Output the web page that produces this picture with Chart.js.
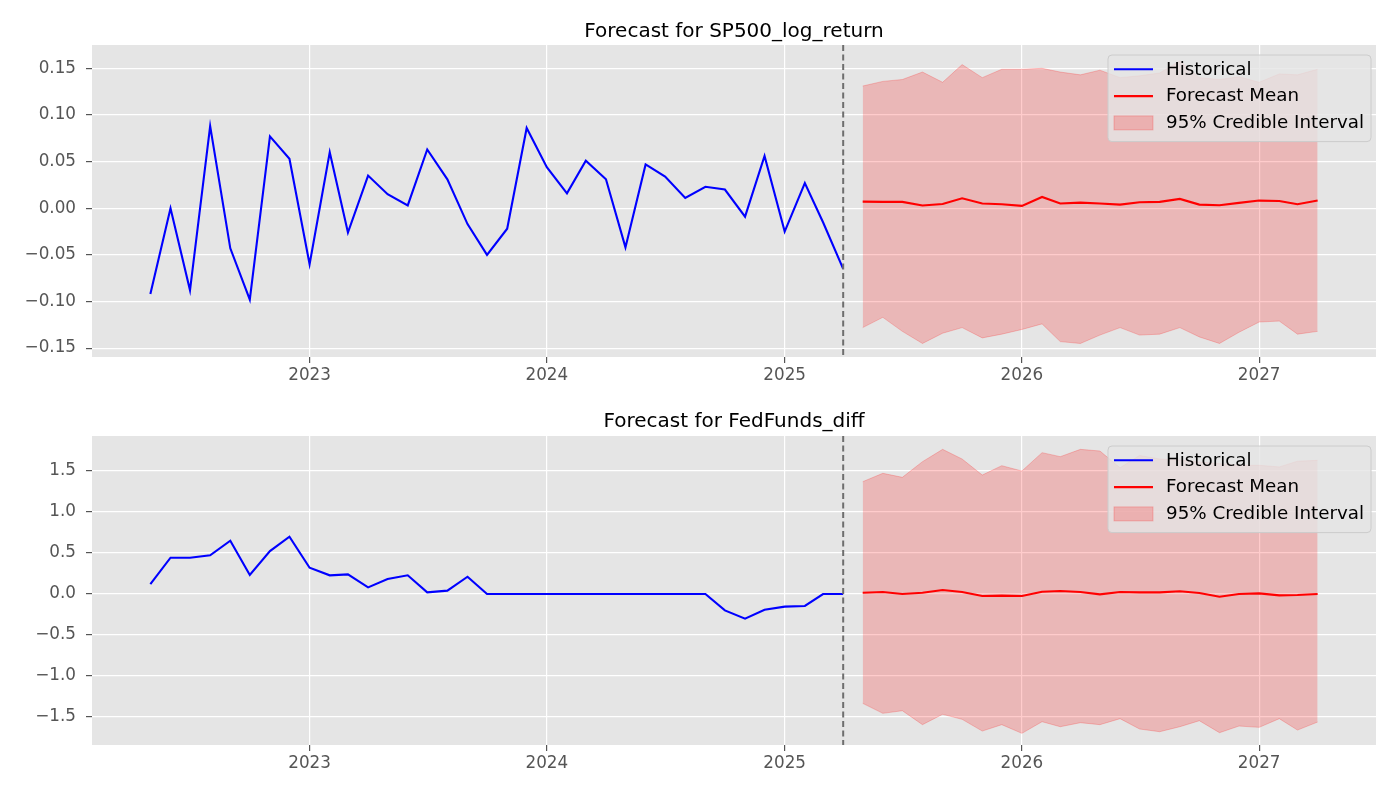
<!DOCTYPE html>
<html>
<head>
<meta charset="utf-8">
<title>Forecast</title>
<script src="https://cdn.jsdelivr.net/npm/chart.js@4.4.1/dist/chart.umd.min.js"></script>
<style>
  html, body { margin: 0; padding: 0; background: #fff; }
  #wrap { width: 1400px; height: 800px; }
  canvas { display: block; }
</style>
</head>
<body>
<div id="wrap">
  <canvas id="spChart" width="1400" height="400"></canvas>
  <canvas id="fedChart" width="1400" height="400"></canvas>
</div>
<script>
// months
const histMonths = [
  '2022-05', '2022-06', '2022-07', '2022-08', '2022-09', '2022-10', '2022-11', '2022-12',
  '2023-01', '2023-02', '2023-03', '2023-04', '2023-05', '2023-06', '2023-07', '2023-08',
  '2023-09', '2023-10', '2023-11', '2023-12', '2024-01', '2024-02', '2024-03', '2024-04',
  '2024-05', '2024-06', '2024-07', '2024-08', '2024-09', '2024-10', '2024-11', '2024-12',
  '2025-01', '2025-02', '2025-03', '2025-04'
];
const fcMonths = [
  '2025-05', '2025-06', '2025-07', '2025-08', '2025-09', '2025-10', '2025-11', '2025-12',
  '2026-01', '2026-02', '2026-03', '2026-04', '2026-05', '2026-06', '2026-07', '2026-08',
  '2026-09', '2026-10', '2026-11', '2026-12', '2027-01', '2027-02', '2027-03', '2027-04'
];
const yearTicks = [2023, 2024, 2025, 2026, 2027];

// SP500_log_return
const spHist = [
  -0.092, 0.000, -0.088, 0.088, -0.043, -0.098, 0.077, 0.053,
  -0.060, 0.060, -0.026, 0.035, 0.015, 0.003, 0.063, 0.031,
  -0.017, -0.050, -0.022, 0.086, 0.044, 0.016, 0.051, 0.031,
  -0.042, 0.047, 0.034, 0.011, 0.023, 0.020, -0.009, 0.056,
  -0.025, 0.027, -0.015, -0.065
];
const spMean = [
  0.0071, 0.0068, 0.0068, 0.0029, 0.0046, 0.0107, 0.0050, 0.0043,
  0.0025, 0.0121, 0.0050, 0.0060, 0.0050, 0.0039, 0.0064, 0.0068,
  0.0100, 0.0039, 0.0032, 0.0057, 0.0082, 0.0078, 0.0043, 0.0082
];
const spUpper = [
  0.131, 0.136, 0.138, 0.146, 0.135, 0.154, 0.140, 0.149,
  0.149, 0.150, 0.146, 0.143, 0.148, 0.140, 0.142, 0.145,
  0.158, 0.140, 0.138, 0.141, 0.135, 0.144, 0.143, 0.149
];
const spLower = [
  -0.128, -0.117, -0.132, -0.145, -0.134, -0.128, -0.139, -0.135,
  -0.130, -0.124, -0.143, -0.145, -0.136, -0.128, -0.136, -0.135,
  -0.128, -0.138, -0.145, -0.133, -0.122, -0.121, -0.135, -0.132
];
const spTicks = [-0.15, -0.10, -0.05, 0.00, 0.05, 0.10, 0.15];

// FedFunds_diff
const fedHist = [
  0.122, 0.443, 0.443, 0.472, 0.650, 0.232, 0.524, 0.699,
  0.321, 0.228, 0.240, 0.081, 0.183, 0.228, 0.020, 0.041,
  0.211, 0.000, 0.000, 0.000, 0.000, 0.000, 0.000, 0.000,
  0.000, 0.000, 0.000, 0.000, 0.000, -0.199, -0.301, -0.191,
  -0.154, -0.146, 0.000, 0.000
];
const fedMean = [
  0.016, 0.024, 0.000, 0.016, 0.049, 0.024, -0.024, -0.020,
  -0.024, 0.028, 0.037, 0.024, -0.004, 0.024, 0.020, 0.020,
  0.033, 0.012, -0.033, 0.000, 0.008, -0.016, -0.012, 0.000
];
const fedUpper = [
  1.370, 1.472, 1.423, 1.614, 1.764, 1.646, 1.451, 1.565,
  1.500, 1.724, 1.675, 1.764, 1.744, 1.540, 1.690, 1.646,
  1.634, 1.610, 1.590, 1.570, 1.570, 1.550, 1.620, 1.630
];
const fedLower = [
  -1.333, -1.455, -1.423, -1.593, -1.467, -1.528, -1.671, -1.593,
  -1.699, -1.557, -1.618, -1.569, -1.593, -1.520, -1.646, -1.679,
  -1.618, -1.545, -1.691, -1.610, -1.626, -1.520, -1.659, -1.561
];
const fedTicks = [-1.5, -1.0, -0.5, 0.0, 0.5, 1.0, 1.5];

const legendLabels = ['Historical', 'Forecast Mean', '95% Credible Interval'];

const FONT = "'DejaVu Sans', 'Liberation Sans', sans-serif";
const TICK_SIZE = 16.8;
const LEGEND_SIZE = 18.3;
const BAND = 'rgba(255, 0, 0, 0.2)';
Chart.defaults.font.family = FONT;

function toTime(m) {
  const [y, mo] = m.split('-').map(Number);
  return Date.UTC(y, mo - 1, 1);
}

const tFirst = toTime(histMonths[0]);
const tLast = toTime(fcMonths[fcMonths.length - 1]);
const xMin = tFirst - 0.05 * (tLast - tFirst);
const xMax = tLast + 0.05 * (tLast - tFirst);
const forecastStart = toTime(histMonths[histMonths.length - 1]);

function pts(months, vals) {
  return months.map((m, i) => ({ x: toTime(m), y: vals[i] }));
}

// grey panel behind the plot
const areaBg = {
  id: 'areaBg',
  beforeDraw(chart) {
    const { ctx, chartArea: a } = chart;
    ctx.save();
    ctx.fillStyle = '#e5e5e5';
    ctx.fillRect(a.left, a.top, a.right - a.left, a.bottom - a.top);
    ctx.restore();
  }
};

// title centred over the plot area
const axTitle = {
  id: 'axTitle',
  afterDraw(chart, args, o) {
    const { ctx, chartArea: a } = chart;
    ctx.save();
    ctx.font = '20px ' + FONT;
    ctx.fillStyle = '#000';
    ctx.textAlign = 'center';
    ctx.textBaseline = 'alphabetic';
    ctx.fillText(o.text, (a.left + a.right) / 2, o.baseline);
    ctx.restore();
  }
};

// dashed line where the forecast begins
const startLine = {
  id: 'startLine',
  afterDatasetsDraw(chart) {
    const { ctx, chartArea: a, scales } = chart;
    const x = scales.x.getPixelForValue(forecastStart);
    ctx.save();
    ctx.strokeStyle = '#6e6e6e';
    ctx.lineWidth = 2;
    ctx.setLineDash([6, 3.5]);
    ctx.beginPath();
    ctx.moveTo(x, a.top);
    ctx.lineTo(x, a.bottom);
    ctx.stroke();
    ctx.restore();
  }
};

// matplotlib-like legend box in the upper right
const boxLegend = {
  id: 'boxLegend',
  afterDraw(chart) {
    const { ctx, chartArea: a } = chart;
    ctx.save();
    ctx.font = LEGEND_SIZE + 'px ' + FONT;
    const textW = Math.max(...legendLabels.map(t => ctx.measureText(t).width));
    const handleX = 6, handleLen = 39, textX = 58, rowH = 26.8;
    const w = textX + textW + 7;
    const h = 86.6;
    const x = a.right - 5 - w;
    const y = a.top + 10;

    ctx.beginPath();
    ctx.roundRect(x, y, w, h, 4);
    ctx.fillStyle = 'rgba(229, 229, 229, 0.8)';
    ctx.fill();
    ctx.strokeStyle = '#cccccc';
    ctx.lineWidth = 1;
    ctx.stroke();

    const hx = x + handleX;
    const colors = ['#0000ff', '#ff0000'];
    legendLabels.forEach((label, i) => {
      const ry = y + 14.3 + i * rowH;
      if (i < 2) {
        ctx.strokeStyle = colors[i];
        ctx.lineWidth = 2.1;
        ctx.beginPath();
        ctx.moveTo(hx, ry);
        ctx.lineTo(hx + handleLen, ry);
        ctx.stroke();
      } else {
        ctx.fillStyle = BAND;
        ctx.fillRect(hx, ry - 7, handleLen, 14);
        ctx.strokeStyle = BAND;
        ctx.lineWidth = 1;
        ctx.strokeRect(hx, ry - 7, handleLen, 14);
      }
      ctx.fillStyle = '#000';
      ctx.textBaseline = 'middle';
      ctx.textAlign = 'left';
      ctx.fillText(label, x + textX, ry + 0.5);
    });
    ctx.restore();
  }
};

function makeChart(id, opts) {
  const ctx = document.getElementById(id).getContext('2d');
  return new Chart(ctx, {
    type: 'line',
    data: {
      datasets: [
        {
          label: 'Historical',
          data: pts(histMonths, opts.hist),
          borderColor: '#0000ff',
          borderWidth: 2.1,
          pointRadius: 0,
          tension: 0,
          fill: false,
          order: 0
        },
        {
          label: 'Forecast Mean',
          data: pts(fcMonths, opts.mean),
          borderColor: '#ff0000',
          borderWidth: 2.1,
          pointRadius: 0,
          tension: 0,
          fill: false,
          order: 1
        },
        {
          label: '95% Credible Interval',
          data: pts(fcMonths, opts.upper),
          borderColor: BAND,
          backgroundColor: BAND,
          borderWidth: 1,
          pointRadius: 0,
          tension: 0,
          fill: '+1',
          order: 2
        },
        {
          label: 'lower',
          data: pts(fcMonths, opts.lower),
          borderColor: BAND,
          borderWidth: 1,
          pointRadius: 0,
          tension: 0,
          fill: false,
          order: 3
        }
      ]
    },
    options: {
      responsive: false,
      animation: false,
      events: [],
      layout: { padding: { left: 0, right: 24, top: opts.topPad, bottom: 0 } },
      scales: {
        x: {
          type: 'linear',
          min: xMin,
          max: xMax,
          afterBuildTicks: s => { s.ticks = yearTicks.map(y => ({ value: Date.UTC(y, 0, 1) })); },
          afterFit: s => { s.height = opts.xAxisH; },
          ticks: {
            callback: v => String(new Date(v).getUTCFullYear()),
            color: '#555555',
            font: { size: TICK_SIZE },
            padding: 3,
            autoSkip: false,
            maxRotation: 0
          },
          grid: { color: '#ffffff', lineWidth: 1.2, tickColor: '#555555', tickLength: 6, tickWidth: 1.2 },
          border: { display: false }
        },
        y: {
          type: 'linear',
          min: opts.yMin,
          max: opts.yMax,
          afterBuildTicks: s => { s.ticks = opts.ticks.map(v => ({ value: v })); },
          afterFit: s => { s.width = 92; },
          ticks: {
            callback: v => v.toFixed(opts.dec).replace('-', '\u2212'),
            color: '#555555',
            font: { size: TICK_SIZE },
            padding: 10
          },
          grid: { color: '#ffffff', lineWidth: 1.2, tickColor: '#555555', tickLength: 6, tickWidth: 1.2 },
          border: { display: false }
        }
      },
      plugins: {
        legend: { display: false },
        tooltip: { enabled: false },
        title: { display: false },
        axTitle: { text: opts.title, baseline: opts.titleBase }
      }
    },
    plugins: [areaBg, startLine, boxLegend, axTitle]
  });
}

makeChart('spChart', {
  title: 'Forecast for SP500_log_return',
  hist: spHist, mean: spMean, upper: spUpper, lower: spLower,
  ticks: spTicks, dec: 2,
  yMin: -0.1595, yMax: 0.175,
  topPad: 45, xAxisH: 43, titleBase: 36.7
});

makeChart('fedChart', {
  title: 'Forecast for FedFunds_diff',
  hist: fedHist, mean: fedMean, upper: fedUpper, lower: fedLower,
  ticks: fedTicks, dec: 1,
  yMin: -1.841, yMax: 1.927,
  topPad: 36, xAxisH: 55, titleBase: 26.7
});
</script>
</body>
</html>
